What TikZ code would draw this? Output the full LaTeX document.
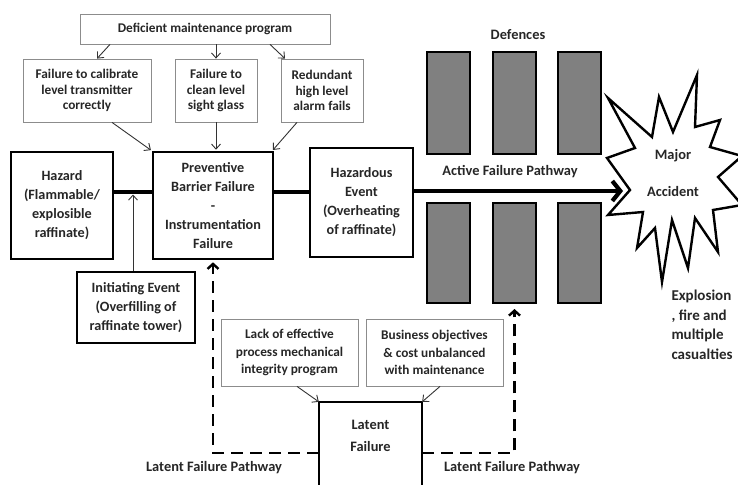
\documentclass[tikz,border=0pt]{standalone}
\usepackage{fontspec}
\setmainfont{Carlito}
\usetikzlibrary{arrows.meta}

\begin{document}
\begin{tikzpicture}[x=1pt,y=-1pt,line join=miter,
    cause/.style={draw=boxgray,line width=0.8pt,align=center,text=txt,inner sep=2pt,
        font=\bfseries\fontsize{13.3}{15.5}\selectfont},
    event/.style={draw=black,line width=2.6pt,align=center,text=txt,inner sep=2pt,
        font=\bfseries\fontsize{14.2}{19}\selectfont},
    defence/.style={draw=black,fill=black!50,line width=2pt,inner sep=0pt,minimum width=43pt},
    caption/.style={text=txt,font=\bfseries\fontsize{14.4}{19}\selectfont},
    causearrow/.style={draw=black!80,line width=0.9pt,-{Straight Barb[length=5pt,width=9pt]}},
    mainline/.style={line width=4.2pt},
    latentpath/.style={line width=2.4pt,dash pattern=on 12pt off 7pt,
        -{Straight Barb[length=5pt,width=11pt]}}]

    \colorlet{boxgray}{black!45}
    \colorlet{txt}{black!85}

    \useasboundingbox (0,0) rectangle (738,484);

    % defences
    \foreach \x [count=\i] in {448,514.5,579} {
        \node[defence,minimum height=102pt] (dtop\i) at (\x,103) {};
        \node[defence,minimum height=100pt] (dlow\i) at (\x,253) {};
    }
    \node[caption] (defences) at (518,35) {Defences};
    \node[caption] (active) at (510,172) {Active Failure Pathway};

    % major accident
    \draw[line width=2.4pt,fill=white] (608,98) -- (652,137) -- (659,97) -- (673,132)
        -- (697,75) -- (695,127) -- (720,120) -- (710,147) -- (742,156) -- (718,177)
        -- (742,205) -- (713,210) -- (718,252) -- (695,218) -- (688,268) -- (672,220)
        -- (662,282) -- (655,228) -- (637,248) -- (643,212) -- (608,215) -- (630,190)
        -- (607,158) -- (635,148) -- cycle;
    \node[caption,align=center,font=\bfseries\fontsize{14.4}{36}\selectfont] (major) at (673,173) {Major\\Accident};
    \coordinate (notch) at (623,191);
    \node[caption,align=left,anchor=west,font=\bfseries\fontsize{15}{19.5}\selectfont] (outcome) at (668,325) {Explosion\\, fire and\\multiple\\casualties};

    % causes
    \node[cause,minimum width=250pt,minimum height=30pt] (defic) at (205,29) {Deficient maintenance program};
    \node[cause,minimum width=128pt,minimum height=63pt] (calib) at (87,90.5) {Failure to calibrate\\level transmitter\\correctly};
    \node[cause,minimum width=82pt,minimum height=63pt] (clean) at (216,90.5) {Failure to\\clean level\\sight glass};
    \node[cause,minimum width=82pt,minimum height=63pt] (redund) at (322,90.5) {Redundant\\high level\\alarm fails};

    \node[event,minimum width=102pt,minimum height=107pt] (hazard) at (62,205.5) {Hazard\\(Flammable/\\explosible\\raffinate)};
    \node[event,minimum width=120pt,minimum height=107pt] (prevent) at (213,205.5) {Preventive\\Barrier Failure\\-\\Instrumentation\\Failure};
    \node[event,minimum width=103pt,minimum height=109pt] (hazev) at (361.5,202.5) {Hazardous\\Event\\(Overheating\\of raffinate)};
    \node[event,minimum width=118pt,minimum height=71pt] (init) at (136,307.5) {Initiating Event\\(Overfilling of\\raffinate tower)};

    \node[cause,font=\bfseries\fontsize{13.3}{17.5}\selectfont,minimum width=137pt,minimum height=67pt] (lack) at (289.5,352.5) {Lack of effective\\process mechanical\\integrity program};
    \node[cause,font=\bfseries\fontsize{13.3}{17.5}\selectfont,minimum width=137pt,minimum height=67pt] (business) at (434.5,352.5) {Business objectives\\\& cost unbalanced\\with maintenance};

    \node[caption,align=center,font=\bfseries\fontsize{14.4}{22}\selectfont,minimum width=103pt,minimum height=68pt] (latent) at (370.5,436) {Latent\\Failure};
    \draw[line width=2pt] ([yshift=-90pt]latent.north west) -- (latent.north west) -- (latent.north east) -- ++(0,90);

    \node[caption] (lpleft) at (214,468) {Latent Failure Pathway};
    \node[caption] (lpright) at (512,468) {Latent Failure Pathway};

    % connectors
    \draw[causearrow] ([xshift=-95pt]defic.south) -- ([xshift=10pt]calib.north);
    \draw[causearrow] (clean.north |- defic.south) -- (clean.north);
    \draw[causearrow] ([xshift=65pt]defic.south) -- ([xshift=-37pt]redund.north);

    \draw[causearrow,shorten >=1pt] ([xshift=25pt]calib.south) -- (prevent.north west);
    \draw[causearrow,shorten >=1pt] (clean.south) -- (clean.south |- prevent.north);
    \draw[causearrow,shorten >=1pt] ([xshift=-25pt]redund.south) -- ([xshift=-2pt]prevent.north east);

    \draw[mainline] ([yshift=13.5pt]hazard.east) -- ([yshift=13.5pt]prevent.west);
    \draw[mainline] ([yshift=13.5pt]prevent.east) -- ([yshift=10.5pt]hazev.west);
    \draw[mainline,-{Straight Barb[length=8pt,width=20pt]}] ([yshift=11.5pt]hazev.east) -- (notch);

    \coordinate (hit) at (133,194.5);
    \draw[causearrow] ([xshift=-3pt]init.north) -- (hit);

    \draw[causearrow] ([xshift=7.5pt]lack.south) -- (latent.north west);
    \draw[causearrow] ([xshift=5.5pt]business.south) -- (latent.north east);

    \draw[latentpath,shorten >=2pt] ([yshift=-17pt]latent.west) -| (prevent.south);
    \draw[latentpath,shorten >=5pt] ([yshift=-17pt]latent.east) -| (dlow2.south);

\end{tikzpicture}
\end{document}
